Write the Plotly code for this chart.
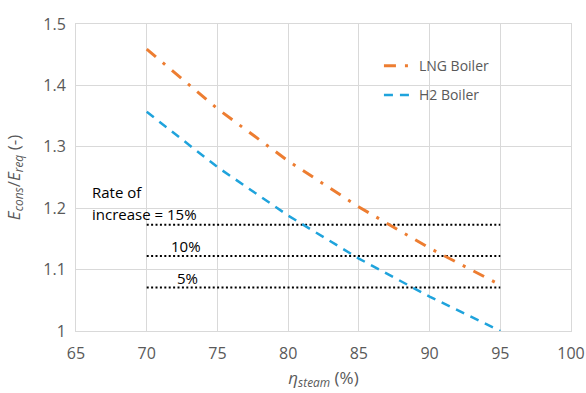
import plotly.graph_objects as go

eta = [70, 75, 80, 85, 90, 95]
lng_boiler = [1.459, 1.362, 1.277, 1.202, 1.135, 1.075]
h2_boiler = [1.357, 1.267, 1.188, 1.118, 1.056, 1.000]

rate_levels = [1.173, 1.122, 1.071]
rate_labels = ["increase = 15%", "10%", "5%"]
rate_x = [70, 95]

font = "Open Sans"
gray = "#595959"

fig = go.Figure()

for lvl in rate_levels:
    fig.add_trace(go.Scatter(x=rate_x, y=[lvl, lvl], mode="lines",
                             line=dict(color="black", width=2, dash="2px,2.4px"),
                             showlegend=False, hoverinfo="skip"))

fig.add_trace(go.Scatter(x=eta, y=lng_boiler, mode="lines", name="LNG Boiler",
                         line=dict(color="#ED7D31", width=3, dash="12px,9px,3px,9px"),
                         legendgroup="a"))
fig.add_trace(go.Scatter(x=eta, y=h2_boiler, mode="lines", name="H2 Boiler",
                         line=dict(color="#1FA3DC", width=2.5, dash="9px,7px"),
                         legendgroup="b"))

fig.add_annotation(x=66.0, y=1.226, xref="x", yref="y", text="Rate of", showarrow=False,
                   xanchor="left", yanchor="middle", font=dict(size=15, color="black", family=font))
fig.add_annotation(x=66.0, y=1.191, xref="x", yref="y", text=rate_labels[0], showarrow=False,
                   xanchor="left", yanchor="middle", font=dict(size=15, color="black", family=font))
fig.add_annotation(x=72.8, y=1.139, xref="x", yref="y", text=rate_labels[1], showarrow=False,
                   xanchor="center", yanchor="middle", font=dict(size=15, color="black", family=font))
fig.add_annotation(x=72.9, y=1.086, xref="x", yref="y", text=rate_labels[2], showarrow=False,
                   xanchor="center", yanchor="middle", font=dict(size=15, color="black", family=font))

fig.update_layout(
    width=586, height=393,
    margin=dict(l=76, r=15, t=24, b=62),
    paper_bgcolor="white", plot_bgcolor="white",
    font=dict(family=font, size=14, color=gray),
    legend=dict(x=0.612, y=0.915, xanchor="left", yanchor="top", bgcolor="rgba(0,0,0,0)",
                tracegroupgap=8, font=dict(size=14, color=gray, family=font)),
    xaxis=dict(range=[65, 100], dtick=5, tick0=65, showgrid=True, gridcolor="#D9D9D9", gridwidth=1,
               showline=True, linecolor="#D9D9D9", mirror=True, zeroline=False, ticks="",
               tickfont=dict(size=16, color=gray), automargin=False, ticklabelstandoff=8,
               title=dict(text="<i>η<sub>steam</sub></i> (%)", font=dict(size=17, color=gray), standoff=8)),
    yaxis=dict(range=[1, 1.5], dtick=0.1, showgrid=True, gridcolor="#D9D9D9", gridwidth=1,
               showline=True, linecolor="#D9D9D9", mirror=True, zeroline=False, ticks="",
               tickfont=dict(size=16, color=gray), tickformat="~g", automargin=False, ticklabelstandoff=6,
               title=dict(text="<i>E<sub>cons</sub></i>/<i>E<sub>req</sub></i> (-)", font=dict(size=17, color=gray), standoff=18)),
)

fig.write_html("out.html")
